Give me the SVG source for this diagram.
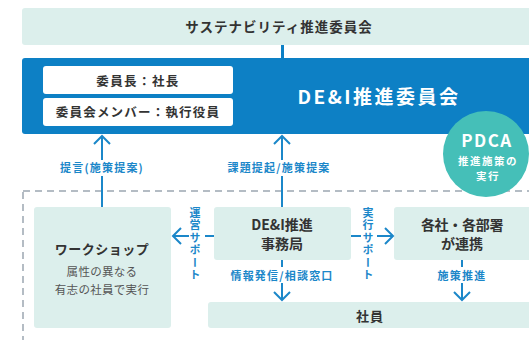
<svg xmlns="http://www.w3.org/2000/svg" width="529" height="340" viewBox="0 0 529 340">
<style>
text{font-family:"Noto Sans CJK JP","Noto Sans",sans-serif;}
.lt{fill:#dcefec;}
.dk{fill:#333;font-weight:bold;text-anchor:middle;}
.wt{fill:#fff;font-weight:bold;text-anchor:middle;}
.lb{fill:#1b87c9;font-weight:bold;font-size:11px;text-anchor:middle;letter-spacing:1.2px;}
.vt{fill:#1b87c9;font-weight:bold;font-size:11px;writing-mode:vertical-rl;text-orientation:upright;letter-spacing:1.5px;}
.ln{stroke:#1b87c9;stroke-width:2;fill:none;}
.ar{marker-end:url(#chev);}
</style>
<defs>
<marker id="chev" markerUnits="userSpaceOnUse" markerWidth="12" markerHeight="20" viewBox="0 0 12 20" refX="10" refY="10" orient="auto">
<path d="M2,2 L10,10 L2,18" fill="none" stroke="#1b87c9" stroke-width="2"/>
</marker>
</defs>
<rect width="529" height="340" fill="#fff"/>

<g id="sustainability">
<rect class="lt" x="22" y="8" width="520" height="37" rx="3"/>
<text class="dk" x="279" y="32" font-size="13.5" letter-spacing="1">サステナビリティ推進委員会</text>
</g>

<g id="dei-committee">
<rect x="22" y="58" width="520" height="76" rx="3" fill="#0d80c5"/>
<rect x="43" y="66" width="190" height="28" rx="3" fill="#fff"/>
<text class="dk" x="138" y="85.5" font-size="12.5" letter-spacing="1.4">委員長：社長</text>
<rect x="43" y="98" width="190" height="28" rx="3" fill="#fff"/>
<text class="dk" x="138" y="117" font-size="12.5" letter-spacing="1.2">委員会メンバー：執行役員</text>
<text class="wt" x="379" y="104" font-size="19" letter-spacing="2.5">DE&amp;I推進委員会</text>
</g>

<g id="dashed-area">
<rect x="23" y="191" width="530" height="200" fill="none" stroke="#b4bcc4" stroke-width="2" stroke-dasharray="7,5"/>
</g>

<g id="pdca">
<circle cx="486" cy="154" r="43" fill="#45bfb8"/>
<text class="wt" x="487" y="147" font-size="17" letter-spacing="1.5">PDCA</text>
<text class="wt" x="488" y="165" font-size="10.5" letter-spacing="1.5">推進施策の</text>
<text class="wt" x="488" y="180" font-size="10.5" letter-spacing="1.5">実行</text>
</g>

<g id="workshop">
<rect class="lt" x="34" y="207" width="137" height="121" rx="3"/>
<text class="dk" x="102" y="254" font-size="13" letter-spacing="0.5">ワークショップ</text>
<text x="102" y="276" font-size="11.5" fill="#555" text-anchor="middle" letter-spacing="0.3">属性の異なる</text>
<text x="102" y="294" font-size="11.5" fill="#555" text-anchor="middle" letter-spacing="0.3">有志の社員で実行</text>
</g>

<g id="secretariat">
<rect class="lt" x="214" y="207" width="137" height="53" rx="3"/>
<text class="dk" x="282" y="230" font-size="14">DE&amp;I推進</text>
<text class="dk" x="282" y="249" font-size="14">事務局</text>
</g>

<g id="departments">
<rect class="lt" x="394" y="207" width="150" height="53" rx="3"/>
<text class="dk" x="462" y="230" font-size="14" letter-spacing="-0.3">各社・各部署</text>
<text class="dk" x="462" y="249" font-size="14">が連携</text>
</g>

<g id="employees">
<rect class="lt" x="208" y="302" width="340" height="26" rx="3"/>
<text class="dk" x="370" y="321" font-size="13" letter-spacing="1">社員</text>
</g>

<g id="connectors">
<rect x="281" y="45" width="3" height="13" fill="#0d80c5"/>
<path class="ln" d="M102,207 V176"/>
<path class="ln ar" d="M102,160 V136"/>
<text class="lb" x="102" y="172">提言(施策提案)</text>
<path class="ln" d="M282,207 V176"/>
<path class="ln ar" d="M282,160 V136"/>
<text class="lb" x="279" y="172">課題提起/施策提案</text>
<path class="ln" d="M214,236 H205"/>
<path class="ln ar" d="M189,236 H173"/>
<text class="vt" x="195" y="207">運営サポート</text>
<path class="ln" d="M351,236 H361"/>
<path class="ln ar" d="M377,236 H393"/>
<text class="vt" x="368" y="207">実行サポート</text>
<path class="ln" d="M282,260 V267"/>
<path class="ln ar" d="M282,283 V300"/>
<text class="lb" x="282" y="280">情報発信/相談窓口</text>
<path class="ln" d="M462,260 V267"/>
<path class="ln ar" d="M462,283 V300"/>
<text class="lb" x="462" y="280">施策推進</text>
</g>
</svg>
